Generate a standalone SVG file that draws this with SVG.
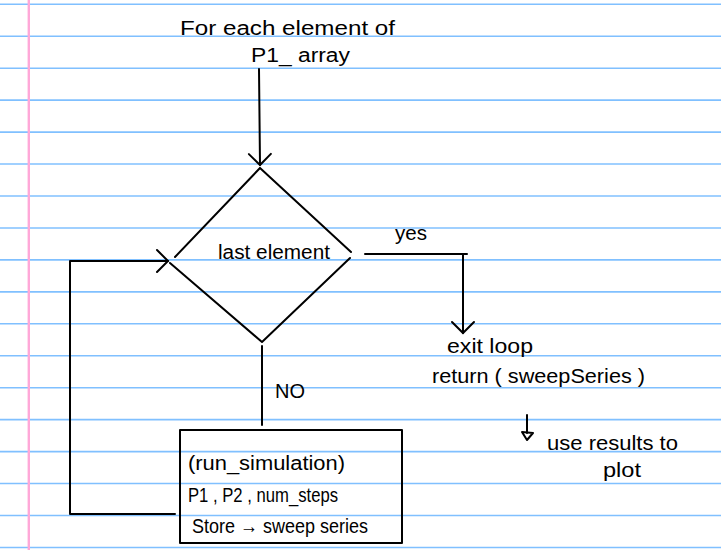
<svg xmlns="http://www.w3.org/2000/svg" width="721" height="550" viewBox="0 0 721 550">
<style>
.rule{stroke:#80c0ff;stroke-width:1.6}
.ink{fill:none;stroke:#000;stroke-width:2;stroke-linecap:round;stroke-linejoin:round}
.t{font-family:"Liberation Sans","DejaVu Sans",sans-serif;font-size:20px;fill:#000}
</style>
<defs>
<marker id="chev" viewBox="-14 -14 16 28" markerWidth="16" markerHeight="28" refX="0" refY="0" orient="auto" markerUnits="userSpaceOnUse">
<path d="M-11,-11 L0,0 L-11,11" fill="none" stroke="#000" stroke-width="2" stroke-linecap="round"/>
</marker>
</defs>
<rect x="0" y="0" width="721" height="550" fill="#fff"/>
<g id="paper">
<line class="rule" x1="0" x2="721" y1="4.3" y2="4.3"/>
<line class="rule" x1="0" x2="721" y1="36.25" y2="36.25"/>
<line class="rule" x1="0" x2="721" y1="68.2" y2="68.2"/>
<line class="rule" x1="0" x2="721" y1="100.15" y2="100.15"/>
<line class="rule" x1="0" x2="721" y1="132.1" y2="132.1"/>
<line class="rule" x1="0" x2="721" y1="164.05" y2="164.05"/>
<line class="rule" x1="0" x2="721" y1="196" y2="196"/>
<line class="rule" x1="0" x2="721" y1="227.95" y2="227.95"/>
<line class="rule" x1="0" x2="721" y1="259.9" y2="259.9"/>
<line class="rule" x1="0" x2="721" y1="291.85" y2="291.85"/>
<line class="rule" x1="0" x2="721" y1="323.8" y2="323.8"/>
<line class="rule" x1="0" x2="721" y1="355.75" y2="355.75"/>
<line class="rule" x1="0" x2="721" y1="387.7" y2="387.7"/>
<line class="rule" x1="0" x2="721" y1="419.65" y2="419.65"/>
<line class="rule" x1="0" x2="721" y1="451.6" y2="451.6"/>
<line class="rule" x1="0" x2="721" y1="483.55" y2="483.55"/>
<line class="rule" x1="0" x2="721" y1="515.5" y2="515.5"/>
<line class="rule" x1="0" x2="721" y1="547.45" y2="547.45"/>
<line x1="28.8" x2="28.8" y1="0" y2="550" stroke="#ffa8d8" stroke-width="2.4"/>
</g>
<g id="start">
<text class="t" x="180" y="35" textLength="215" lengthAdjust="spacingAndGlyphs">For each element of</text>
<text class="t" x="251" y="62" textLength="99" lengthAdjust="spacingAndGlyphs">P1_ array</text>
</g>
<g id="decision">
<path class="ink" d="M260,168 L175,257 M170,263 L262,342 L350,258 M351,252 L260,168"/>
<text class="t" x="218" y="259" textLength="112" lengthAdjust="spacingAndGlyphs">last element</text>
</g>
<g id="exit">
<text class="t" x="447" y="353" textLength="86" lengthAdjust="spacingAndGlyphs">exit loop</text>
<text class="t" x="432" y="383" textLength="213" lengthAdjust="spacingAndGlyphs">return ( sweepSeries )</text>
</g>
<g id="plot">
<text class="t" x="547" y="450" textLength="131" lengthAdjust="spacingAndGlyphs">use results to</text>
<text class="t" x="603" y="477" textLength="38" lengthAdjust="spacingAndGlyphs">plot</text>
</g>
<g id="process">
<rect class="ink" x="180" y="430" width="222" height="113"/>
<text class="t" x="188" y="470" textLength="157" lengthAdjust="spacingAndGlyphs">(run_simulation)</text>
<text class="t" x="188" y="502" textLength="150" lengthAdjust="spacingAndGlyphs">P1 , P2 , num_steps</text>
<text class="t" x="192" y="533" textLength="176" lengthAdjust="spacingAndGlyphs">Store → sweep series</text>
</g>
<g id="connectors">
<line class="ink" x1="259" y1="69" x2="260" y2="165" marker-end="url(#chev)"/>
<polyline class="ink" points="365,254 467,254"/>
<line class="ink" x1="463" y1="255" x2="463" y2="333" marker-end="url(#chev)"/>
<text class="t" x="395" y="240" textLength="32" lengthAdjust="spacingAndGlyphs">yes</text>
<line class="ink" x1="262" y1="346" x2="262" y2="425"/>
<text class="t" x="275" y="398" textLength="30" lengthAdjust="spacingAndGlyphs">NO</text>
<polyline class="ink" points="175,514 70,514 70,261 168,261" marker-end="url(#chev)"/>
<line class="ink" x1="527" y1="415" x2="527" y2="433"/>
<path class="ink" d="M522,432 L533,433 L527,440 Z"/>
</g>
</svg>
